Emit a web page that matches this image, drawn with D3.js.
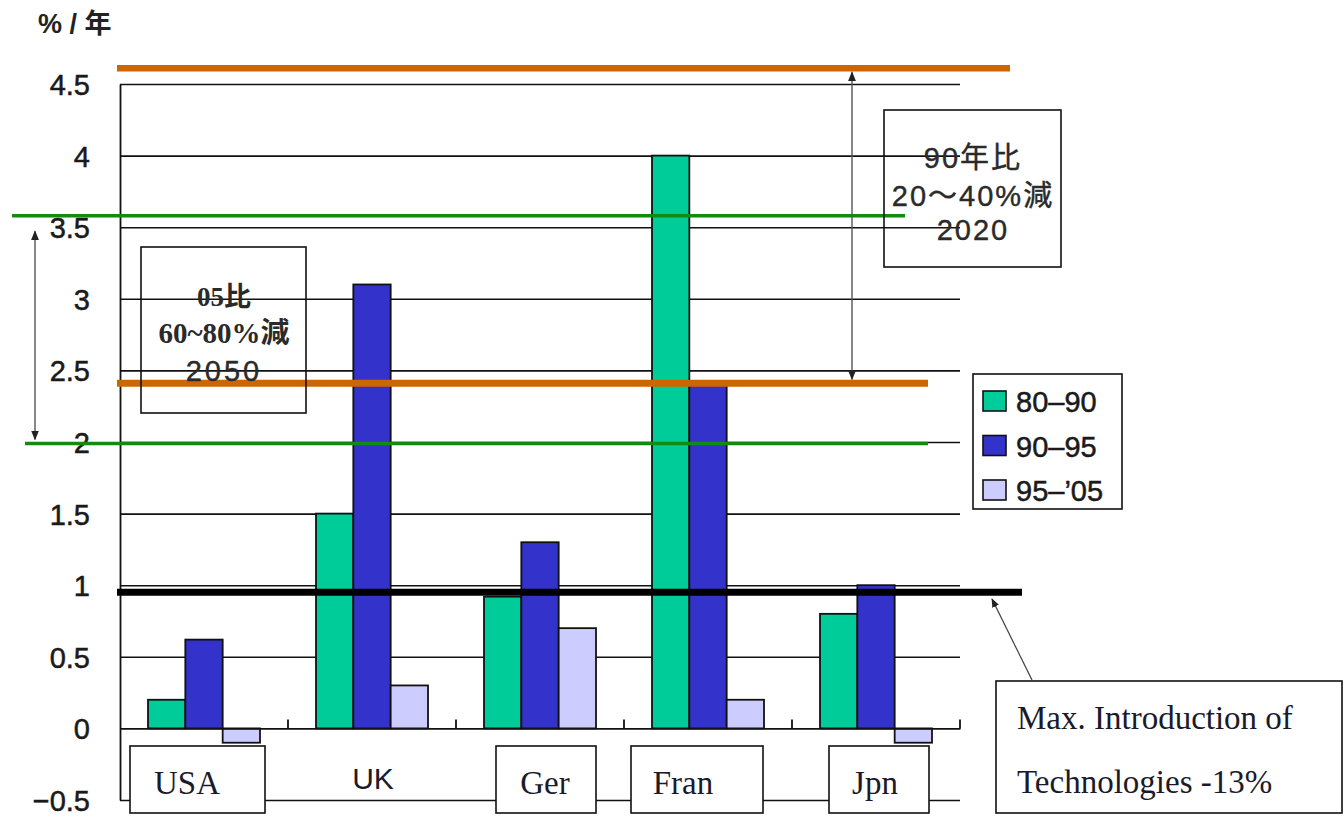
<!DOCTYPE html>
<html>
<head>
<meta charset="utf-8">
<script src="https://cdn.jsdelivr.net/npm/d3@7"></script>
<style>
  body { margin: 0; background: #fff; }
  svg { display: block; }
</style>
</head>
<body>
<div class="chart"></div>
<script>
// chart data
const countries = ["USA", "UK", "Ger", "Fran", "Jpn"];
const periods = ["80-90", "90-95", "95-'05"];
const values8090 = [0.2, 1.5, 0.92, 4.0, 0.8];
const values9095 = [0.62, 3.1, 1.3, 2.4, 1.0];
const values9505 = [-0.1, 0.3, 0.7, 0.2, -0.1];
const yTicks = [-0.5, 0, 0.5, 1, 1.5, 2, 2.5, 3, 3.5, 4, 4.5];
const targetLines = [4.61, 2.41, 3.58, 1.99, 0.95];   // orange, orange, green, green, black

const width = 1344, height = 818;
const colors = ["#00cc99", "#3333cc", "#ccccff"];
const sans = "'Liberation Sans', Arial, sans-serif";
const serif = "'Liberation Serif', 'Times New Roman', serif";
const cjk = "'Liberation Sans', 'Noto Sans CJK JP', sans-serif";

const svg = d3.select(".chart").append("svg")
  .attr("width", width)
  .attr("height", height);

const defs = svg.append("defs");
defs.append("marker")
  .attr("id", "arrow")
  .attr("viewBox", "0 0 10 10")
  .attr("refX", 9).attr("refY", 5)
  .attr("markerWidth", 7).attr("markerHeight", 7)
  .attr("orient", "auto-start-reverse")
  .append("path")
  .attr("d", "M0,1 L10,5 L0,9 Z")
  .attr("fill", "#222");

const x0 = d3.scaleBand().domain(countries).range([120, 960]);
const x1 = d3.scaleBand().domain(periods).range([0, x0.bandwidth()])
  .paddingInner(0).paddingOuter(0.75);
const y = d3.scaleLinear().domain([-0.5, 4.5]).range([800, 84]);

// gridlines
svg.append("g")
  .attr("class", "grid")
  .attr("transform", "translate(120,0)")
  .call(d3.axisLeft(y).tickValues(yTicks.filter(d => d !== 0)).tickSize(-840).tickFormat(""))
  .call(g => g.select(".domain").remove())
  .call(g => g.selectAll("line").attr("stroke", "#111").attr("stroke-width", 1.6));

// y axis labels
svg.append("g")
  .attr("transform", "translate(120,0)")
  .call(d3.axisLeft(y).tickValues(yTicks).tickSize(0).tickPadding(30)
    .tickFormat(d => (d < 0 ? "\u2212" : "") + Math.abs(d)))
  .call(g => g.select(".domain").attr("stroke", "#111").attr("stroke-width", 1.8))
  .call(g => g.selectAll("text")
    .attr("font-family", sans)
    .attr("font-size", 29)
    .attr("fill", "#1a1a1a")
    .attr("stroke", "#1a1a1a")
    .attr("stroke-width", 0.5)
    .attr("dy", "0.36em"));

svg.append("text")
  .attr("x", 38).attr("y", 33)
  .attr("font-family", cjk)
  .attr("font-size", 27)
  .attr("font-weight", "bold")
  .attr("fill", "#222")
  .text("% / 年");

// bars
const series = [values8090, values9095, values9505];
const barData = [];
countries.forEach((c, i) => {
  periods.forEach((p, j) => barData.push({ country: c, period: p, value: series[j][i], k: j }));
});

svg.append("g")
  .selectAll("rect")
  .data(barData)
  .enter()
  .append("rect")
  .attr("x", d => x0(d.country) + x1(d.period))
  .attr("y", d => y(Math.max(0, d.value)))
  .attr("width", x1.bandwidth())
  .attr("height", d => Math.abs(y(d.value) - y(0)))
  .attr("fill", d => colors[d.k])
  .attr("stroke", "#111")
  .attr("stroke-width", 1.8);

// x axis at zero
svg.append("g")
  .attr("transform", "translate(0," + y(0) + ")")
  .call(d3.axisTop(x0).tickSize(0).tickFormat(""))
  .call(g => g.select(".domain").attr("stroke", "#111").attr("stroke-width", 1.8));

svg.append("g")
  .selectAll("line")
  .data(countries)
  .enter()
  .append("line")
  .attr("x1", d => x0(d) + x0.bandwidth())
  .attr("x2", d => x0(d) + x0.bandwidth())
  .attr("y1", y(0))
  .attr("y2", y(0) - 9)
  .attr("stroke", "#111")
  .attr("stroke-width", 1.8);

// target lines
const lineStyles = [
  { x1: 117, x2: 1010, color: "#cc6600", w: 6.5 },
  { x1: 117, x2: 928, color: "#cc6600", w: 7 },
  { x1: 12, x2: 905, color: "#138a13", w: 3.5 },
  { x1: 25, x2: 928, color: "#138a13", w: 3.5 },
  { x1: 117, x2: 1022, color: "#000", w: 7 }
];
svg.append("g")
  .selectAll("line")
  .data(targetLines)
  .enter()
  .append("line")
  .attr("x1", (d, i) => lineStyles[i].x1)
  .attr("x2", (d, i) => lineStyles[i].x2)
  .attr("y1", d => y(d))
  .attr("y2", d => y(d))
  .attr("stroke", (d, i) => lineStyles[i].color)
  .attr("stroke-width", (d, i) => lineStyles[i].w);

// double arrows
const addArrow = (xp, v1, v2) => {
  svg.append("line")
    .attr("x1", xp).attr("x2", xp)
    .attr("y1", y(v1) + 4).attr("y2", y(v2) - 4)
    .attr("stroke", "#555")
    .attr("stroke-width", 1.4)
    .attr("marker-start", "url(#arrow)")
    .attr("marker-end", "url(#arrow)");
};
addArrow(852, targetLines[0], targetLines[1]);
addArrow(35, 3.5, targetLines[3]);

// annotation boxes
const addBox = (parent, x, yy, w, h, fill) => {
  parent.append("rect")
    .attr("x", x).attr("y", yy)
    .attr("width", w).attr("height", h)
    .attr("fill", fill)
    .attr("stroke", "#111")
    .attr("stroke-width", 1.6);
};

addBox(svg, 884, 110, 177, 157, "none");
[["90年比", 168], ["20～40%減", 206], ["2020", 240]].forEach(([t, yy]) => {
  svg.append("text")
    .attr("x", 973).attr("y", yy)
    .attr("text-anchor", "middle")
    .attr("font-family", cjk)
    .attr("font-size", 29)
    .attr("letter-spacing", 2)
    .attr("fill", "#2a2a2a")
    .attr("stroke", "#2a2a2a")
    .attr("stroke-width", 0.4)
    .text(t);
});

addBox(svg, 141, 247, 165, 166, "none");
[["05比", 306, serif, "bold", 27, 0], ["60~80%減", 343, serif, "bold", 29, 0], ["2050", 381, sans, "normal", 29, 3]].forEach(([t, yy, f, fw, fs, ls]) => {
  svg.append("text")
    .attr("x", 224).attr("y", yy)
    .attr("text-anchor", "middle")
    .attr("font-family", f + ", 'Noto Sans CJK JP'")
    .attr("font-size", fs)
    .attr("font-weight", fw)
    .attr("letter-spacing", ls)
    .attr("fill", "#2a2a2a")
    .attr("stroke", "#2a2a2a")
    .attr("stroke-width", fw === "bold" ? 0 : 0.4)
    .text(t);
});

// legend
const legend = svg.append("g");
addBox(legend, 973, 374, 149, 135, "#fff");
legend.selectAll(".swatch")
  .data(periods)
  .enter()
  .append("rect")
  .attr("class", "swatch")
  .attr("x", 983)
  .attr("y", (d, i) => 391 + i * 44.5)
  .attr("width", 23)
  .attr("height", 20)
  .attr("fill", (d, i) => colors[i])
  .attr("stroke", "#111")
  .attr("stroke-width", 1.6);
legend.selectAll("text")
  .data(periods)
  .enter()
  .append("text")
  .attr("x", 1016)
  .attr("y", (d, i) => 412 + i * 44.5)
  .attr("font-family", sans)
  .attr("font-size", 29)
  .attr("fill", "#1a1a1a")
  .attr("stroke", "#1a1a1a")
  .attr("stroke-width", 0.5)
  .text(d => d.replace("-", "\u2013").replace("'", "\u2019"));

// callout
svg.append("line")
  .attr("x1", 1032).attr("y1", 680)
  .attr("x2", 992).attr("y2", 599)
  .attr("stroke", "#444")
  .attr("stroke-width", 1.3)
  .attr("marker-end", "url(#arrow)");
addBox(svg, 996, 681, 346, 132, "#fff");
[["Max. Introduction of", 729], ["Technologies -13%", 793]].forEach(([t, yy]) => {
  svg.append("text")
    .attr("x", 1017).attr("y", yy)
    .attr("font-family", serif)
    .attr("font-size", 33)
    .attr("fill", "#1a1a2a")
    .text(t);
});

// category labels
const labelBoxes = [[130, 265], null, [496, 596], [631, 763], [829, 929]];
const labelX = [187, 373, 545, 683, 875];
countries.forEach((c, i) => {
  const b = labelBoxes[i];
  if (b) addBox(svg, b[0], 746, b[1] - b[0], 67, "#fff");
  svg.append("text")
    .attr("x", labelX[i])
    .attr("y", b ? 794 : 789)
    .attr("text-anchor", "middle")
    .attr("font-family", b ? serif : sans)
    .attr("font-size", b ? 33 : 30)
    .attr("fill", "#1a1a2a")
    .text(c);
});
</script>
</body>
</html>
